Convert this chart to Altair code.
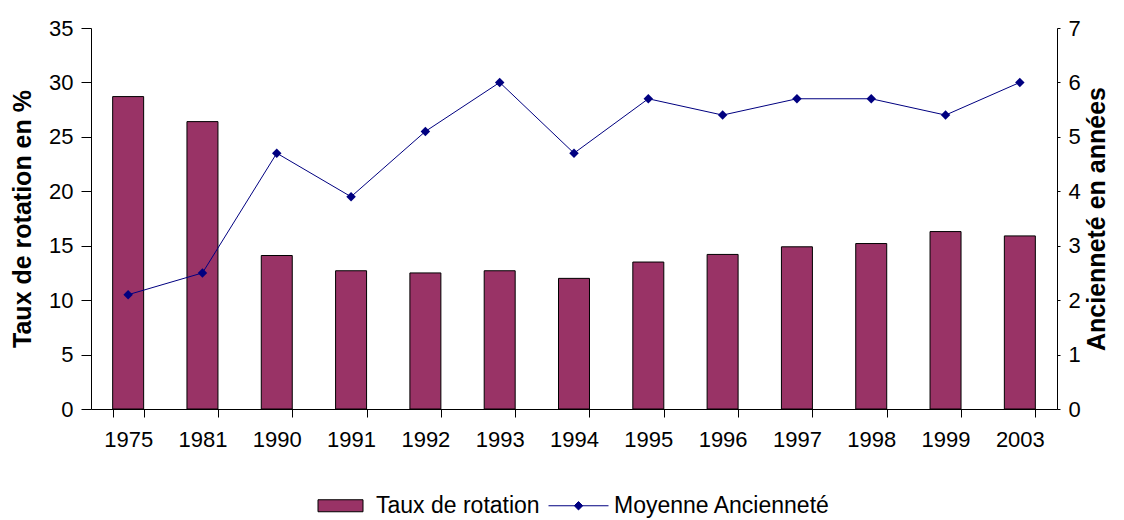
import altair as alt
import pandas as pd

years = ["1975", "1981", "1990", "1991", "1992", "1993", "1994",
         "1995", "1996", "1997", "1998", "1999", "2003"]
taux_rotation = [28.7, 26.4, 14.1, 12.7, 12.5, 12.7, 12.0, 13.5, 14.2, 14.9, 15.2, 16.3, 15.9]
moyenne_anciennete = [2.1, 2.5, 4.7, 3.9, 5.1, 6.0, 4.7, 5.7, 5.4, 5.7, 5.7, 5.4, 6.0]
series_names = ["Taux de rotation", "Moyenne Ancienneté"]
left_ticks = [0, 5, 10, 15, 20, 25, 30, 35]
right_ticks = [0, 1, 2, 3, 4, 5, 6, 7]

legend_shapes = ["M-1.5,-0.4H1.5V0.4H-1.5Z",
                 "M-2,0H2M0,-0.28L0.28,0L0,0.28L-0.28,0Z"]
fill_colors = ["#993366", "#000080"]
stroke_colors = ["#000000", "#000080"]

df = pd.DataFrame({"annee": years, "taux": taux_rotation, "anciennete": moyenne_anciennete})
legend_src = pd.DataFrame({"serie": series_names})

FONT = "Liberation Sans"

x_enc = alt.X(
    "annee:N", sort=years, title=None,
    scale=alt.Scale(paddingInner=0.583, paddingOuter=0.2915),
    axis=alt.Axis(labelAngle=0, tickBand="extent", tickSize=8, labelPadding=12,
                  labelFontSize=22, labelFont=FONT, labelColor="black",
                  domainColor="black", tickColor="black", grid=False),
)

bars = alt.Chart(df).mark_bar(fill="#993366", stroke="black", strokeWidth=1).encode(
    x=x_enc,
    y=alt.Y("taux:Q", scale=alt.Scale(domain=[0, 35], nice=False),
            axis=alt.Axis(values=left_ticks, title="Taux de rotation en %", grid=False,
                          tickSize=10, labelPadding=8, titlePadding=13,
                          labelFontSize=22, labelFont=FONT, labelColor="black",
                          titleFontSize=25, titleFont=FONT, titleFontWeight="bold",
                          titleColor="black", domainColor="black", tickColor="black")),
)

line = alt.Chart(df).mark_line(
    color="#000080", strokeWidth=1,
    point=alt.OverlayMarkDef(shape="diamond", size=90, filled=True, color="#000080", opacity=1),
).encode(
    x=x_enc,
    y=alt.Y("anciennete:Q", scale=alt.Scale(domain=[0, 7], nice=False),
            axis=alt.Axis(orient="right", values=right_ticks, title="Ancienneté en années",
                          titleAngle=270, titleBaseline="top", grid=False, tickSize=3,
                          labelPadding=8, titlePadding=4, labelFontSize=22, labelFont=FONT,
                          labelColor="black", titleFontSize=25, titleFont=FONT,
                          titleFontWeight="bold", titleColor="black",
                          domainColor="black", tickColor="black")),
)

leg = alt.Legend(title=None, orient="none", direction="horizontal", legendX=234, legendY=462,
                 labelFontSize=23, labelFont=FONT, labelColor="black", labelLimit=0,
                 symbolSize=900, labelOffset=20, columnPadding=6, symbolStrokeWidth=1,
                 padding=0)

legend_layer = alt.Chart(legend_src).mark_point(filled=True, opacity=1).encode(
    shape=alt.Shape("serie:N", scale=alt.Scale(domain=series_names, range=legend_shapes), legend=leg),
    fill=alt.Fill("serie:N", scale=alt.Scale(domain=series_names, range=fill_colors), legend=leg),
    stroke=alt.Stroke("serie:N", scale=alt.Scale(domain=series_names, range=stroke_colors), legend=leg),
).transform_filter("false")

chart = alt.layer(bars, line, legend_layer).resolve_scale(y="independent").properties(
    width=966, height=381,
    autosize=alt.AutoSizeParams(type="none"),
    padding={"left": 83, "top": 20, "right": 56, "bottom": 110},
    background="white",
).configure_view(fill="#c0c0c0", strokeWidth=0)

chart.save("out.html", embed_options={"renderer": "svg", "actions": False})
